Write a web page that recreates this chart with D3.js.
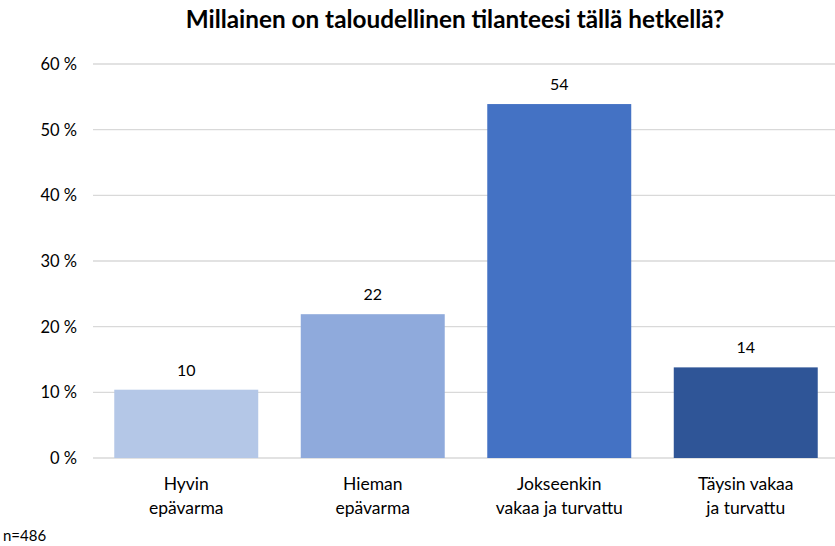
<!DOCTYPE html>
<html><head><meta charset="utf-8">
<script src="https://cdn.jsdelivr.net/npm/d3@7"></script>
<style>body{margin:0;background:#fff}svg{display:block}text{font-family:Lato,"Open Sans",sans-serif}</style>
</head><body>
<svg id="c" width="835" height="546"></svg>
<script>
const categories = [["Hyvin","epävarma"],["Hieman","epävarma"],["Jokseenkin","vakaa ja turvattu"],["Täysin vakaa","ja turvattu"]];
const values = [10.4, 21.9, 53.9, 13.8];
const labels = ["10","22","54","14"];
const colors = ["#B4C7E7","#8FAADC","#4472C4","#2F5597"];
const yTicks = [0,10,20,30,40,50,60];
const title = "Millainen on taloudellinen tilanteesi tällä hetkellä?";
const note = "n=486";

const svg = d3.select("#c");
const x = d3.scaleBand().domain(d3.range(categories.length)).range([93, 839]).paddingInner(0.228).paddingOuter(0.114);
const y = d3.scaleLinear().domain([0,60]).range([458, 64]);

svg.append("g").selectAll("line").data(yTicks).join("line")
  .attr("x1",93).attr("x2",835).attr("y1",d=>y(d)).attr("y2",d=>y(d))
  .attr("stroke","#d9d9d9").attr("stroke-width",1.3);

svg.append("g").selectAll("text").data(yTicks).join("text")
  .attr("x",77).attr("y",d=>y(d)+6).attr("text-anchor","end")
  .attr("font-size",16.5).attr("fill","#000").text(d=>d+" %");

svg.append("g").selectAll("rect").data(values).join("rect")
  .attr("x",(d,i)=>x(i)).attr("width",x.bandwidth())
  .attr("y",d=>y(d)).attr("height",d=>y(0)-y(d))
  .attr("fill",(d,i)=>colors[i]);

svg.append("g").selectAll("text").data(values).join("text")
  .attr("x",(d,i)=>x(i)+x.bandwidth()/2).attr("y",d=>y(d)-14)
  .attr("text-anchor","middle").attr("font-size",16).attr("fill","#000")
  .text((d,i)=>labels[i]);

const cat = svg.append("g").selectAll("text").data(categories).join("text")
  .attr("text-anchor","middle").attr("font-size",17.5).attr("fill","#000");
cat.each(function(d,i){
  d3.select(this).selectAll("tspan").data(d).join("tspan")
    .attr("x",x(i)+x.bandwidth()/2).attr("y",(t,j)=>490+j*24).text(t=>t);
});

svg.append("text").attr("x",455).attr("y",28).attr("text-anchor","middle")
  .attr("font-size",24.3).attr("font-weight","bold").attr("fill","#000").text(title);

svg.append("text").attr("x",3).attr("y",541).attr("font-size",15).attr("fill","#000").text(note);
</script>
</body></html>
